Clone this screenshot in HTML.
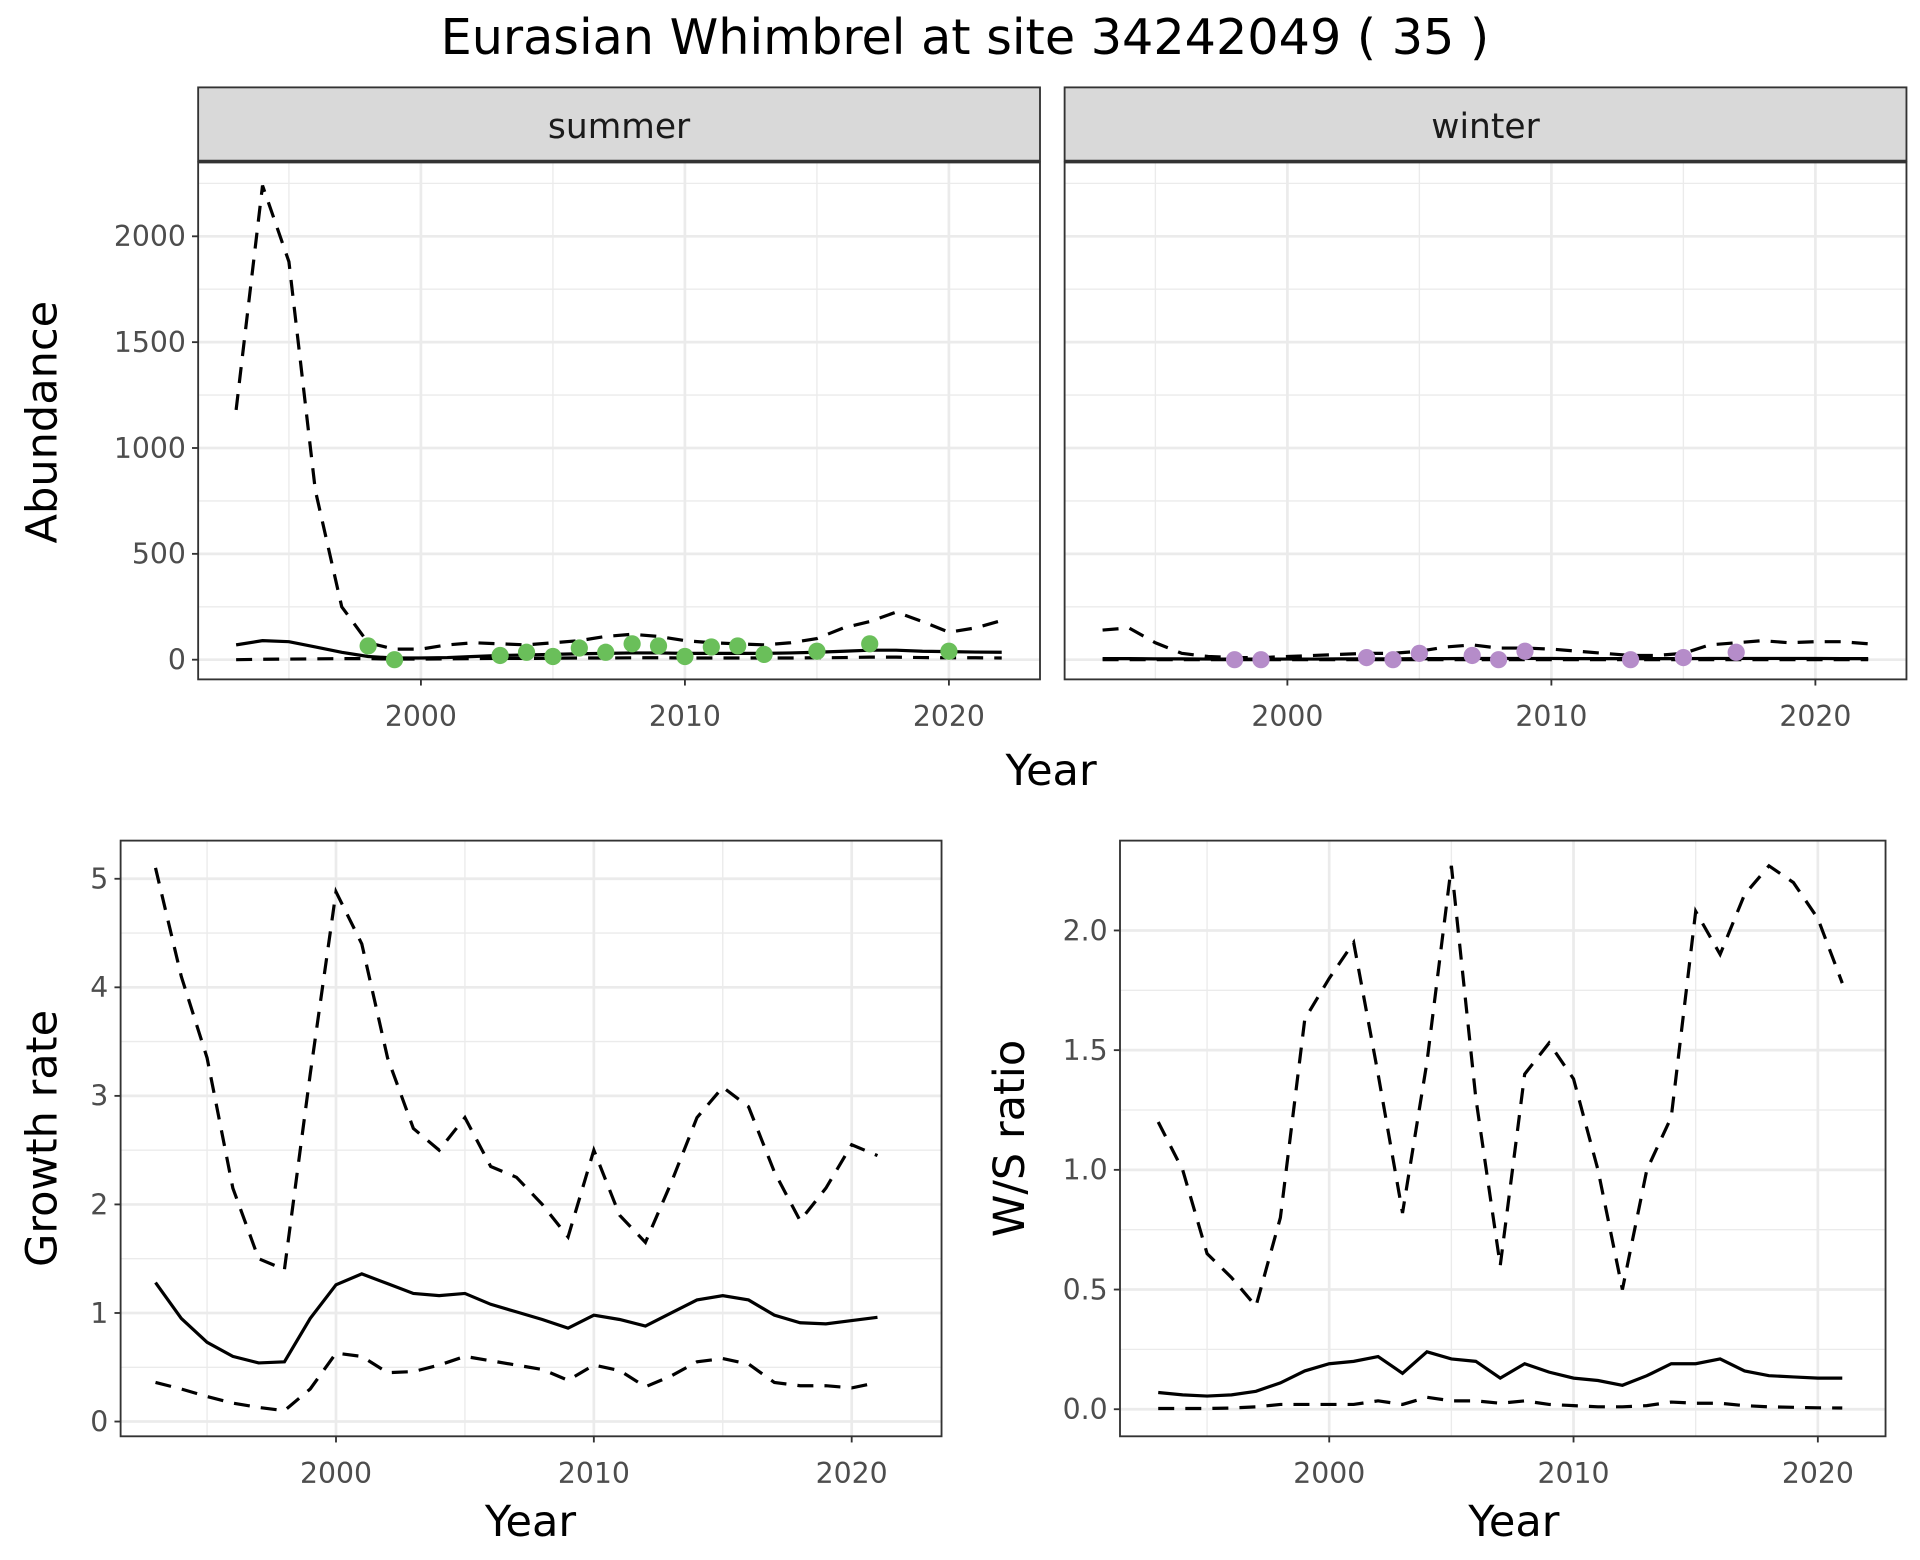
<!DOCTYPE html>
<html><head><meta charset="utf-8"><style>
html,body{margin:0;padding:0;background:#fff;}
svg{display:block;font-family:"DejaVu Sans","Liberation Sans",sans-serif;}
</style></head><body>
<svg id="chart" width="1920" height="1560" viewBox="0 0 1560 1267.5" xmlns="http://www.w3.org/2000/svg">
<rect width="1560" height="1267.5" fill="#fff"/>
<text x="784" y="44" font-size="40" text-anchor="middle" fill="#000">Eurasian Whimbrel at site 34242049 ( 35 )</text>
</svg>
<script>
const years = [1993,1994,1995,1996,1997,1998,1999,2000,2001,2002,2003,2004,2005,2006,2007,2008,2009,2010,2011,2012,2013,2014,2015,2016,2017,2018,2019,2020,2021,2022];
const summerMean = [70,90,85,60,35,15,8,8,10,15,20,22,25,28,30,32,32,30,30,30,30,32,35,40,45,45,40,38,36,35];
const summerUpper = [1180,2240,1880,800,250,80,50,50,70,80,75,70,80,90,110,120,110,90,80,75,70,80,100,150,180,225,180,130,150,185];
const summerLower = [0,2,3,4,5,5,3,3,4,5,6,6,7,8,8,9,9,8,8,8,8,8,9,10,12,12,10,9,9,8];
const summerPtYears = [1998,1999,2003,2004,2005,2006,2007,2008,2009,2010,2011,2012,2013,2015,2017,2020];
const summerPtVals = [65,0,20,35,15,55,35,75,65,15,60,65,25,40,75,40];
const winterMean = [5,5,4,4,3,3,3,3,3,4,4,4,5,5,6,6,6,6,5,5,5,5,5,6,6,6,6,6,5,5];
const winterUpper = [140,150,80,30,15,10,10,15,20,25,30,30,40,60,70,55,55,50,40,30,20,20,30,70,80,90,80,85,85,75];
const winterLower = [0,0,0,0,0,0,0,0,0,0,0,0,0,0,0,0,0,0,0,0,0,0,0,0,0,0,0,0,0,0];
const winterPtYears = [1998,1999,2003,2004,2005,2007,2008,2009,2013,2015,2017];
const winterPtVals = [0,0,10,0,30,20,0,40,0,10,35];
const rateYears = [1993,1994,1995,1996,1997,1998,1999,2000,2001,2002,2003,2004,2005,2006,2007,2008,2009,2010,2011,2012,2013,2014,2015,2016,2017,2018,2019,2020,2021];
const growthMean = [1.28,0.95,0.73,0.6,0.54,0.55,0.95,1.26,1.36,1.27,1.18,1.16,1.18,1.08,1.01,0.94,0.86,0.98,0.94,0.88,1.0,1.12,1.16,1.12,0.98,0.91,0.9,0.93,0.96];
const growthUpper = [5.1,4.1,3.35,2.15,1.5,1.4,3.2,4.88,4.4,3.35,2.7,2.5,2.8,2.35,2.25,2.0,1.7,2.5,1.9,1.65,2.2,2.8,3.08,2.9,2.3,1.85,2.15,2.55,2.45];
const growthLower = [0.36,0.3,0.23,0.17,0.13,0.1,0.3,0.63,0.6,0.45,0.46,0.52,0.6,0.56,0.52,0.48,0.38,0.52,0.47,0.32,0.42,0.55,0.58,0.53,0.36,0.33,0.33,0.31,0.36];
const wsMean = [0.07,0.06,0.055,0.06,0.075,0.11,0.16,0.19,0.2,0.22,0.15,0.24,0.21,0.2,0.13,0.19,0.155,0.13,0.12,0.1,0.14,0.19,0.19,0.21,0.16,0.14,0.135,0.13,0.13];
const wsUpper = [1.2,1.0,0.65,0.55,0.43,0.8,1.63,1.8,1.95,1.4,0.82,1.45,2.27,1.3,0.6,1.4,1.53,1.38,1.0,0.5,1.0,1.22,2.08,1.9,2.15,2.27,2.2,2.05,1.78];
const wsLower = [0.003,0.003,0.003,0.005,0.01,0.02,0.02,0.02,0.02,0.035,0.02,0.05,0.035,0.035,0.025,0.035,0.02,0.015,0.01,0.01,0.015,0.03,0.025,0.025,0.015,0.01,0.008,0.006,0.005];
const xTicks = [2000,2010,2020];
const abTicks = [0,500,1000,1500,2000];
const grTicks = [0,1,2,3,4,5];
const wsTicks = [0,0.5,1.0,1.5,2.0];
const wsTickLabels = ["0.0","0.5","1.0","1.5","2.0"];

const svg = document.getElementById('chart');
const NS = 'http://www.w3.org/2000/svg';
function mk(tag, attrs, parent){ const e=document.createElementNS(NS,tag); for(const k in attrs) e.setAttribute(k,attrs[k]); (parent||svg).appendChild(e); return e; }

function panel(cfg){
  const g = mk('g',{});
  
  
  const x = v => cfg.x0 + (v - cfg.xa) * cfg.xs;
  const y = v => cfg.y0 - (v - cfg.ya) * cfg.ys;
  for(let i=0;i<cfg.yt.length-1;i++){ const m=(cfg.yt[i]+cfg.yt[i+1])/2; mk('line',{x1:cfg.L,x2:cfg.R,y1:y(m),y2:y(m),stroke:'#EBEBEB','stroke-width':1.1},g); }
  if(cfg.yMinorTop!==undefined){ mk('line',{x1:cfg.L,x2:cfg.R,y1:y(cfg.yMinorTop),y2:y(cfg.yMinorTop),stroke:'#EBEBEB','stroke-width':1.1},g); }
  for(const m of [1995,2005,2015]){ mk('line',{x1:x(m),x2:x(m),y1:cfg.T,y2:cfg.B,stroke:'#EBEBEB','stroke-width':1.1},g); }
  cfg.yt.forEach(v=>mk('line',{x1:cfg.L,x2:cfg.R,y1:y(v),y2:y(v),stroke:'#EBEBEB','stroke-width':2.2},g));
  xTicks.forEach(v=>mk('line',{x1:x(v),x2:x(v),y1:cfg.T,y2:cfg.B,stroke:'#EBEBEB','stroke-width':2.2},g));
  const line=(xs,vals,dash,nm)=>{ const p=mk('polyline',{points:xs.map((yr,i)=>x(yr)+','+y(vals[i])).join(' '),fill:'none',stroke:'#000','stroke-width':2.6,'stroke-dasharray':dash?'13,9':'none'},g);
    
     };
  line(cfg.xs_, cfg.upper, true, 'upper-ci-line');
  line(cfg.xs_, cfg.lower, true, 'lower-ci-line');
  line(cfg.xs_, cfg.mean, false, 'mean-line');
  if(cfg.pts){ cfg.pts.forEach((yr,i)=>{ const c=mk('circle',{cx:x(yr),cy:y(cfg.ptv[i]),r:7,fill:cfg.ptc},g);
    
     }); }
  mk('rect',{x:cfg.L,y:cfg.T,width:cfg.R-cfg.L,height:cfg.B-cfg.T,fill:'none',stroke:'#333','stroke-width':1.5},g);
  if(cfg.showY){ cfg.yt.forEach((v,i)=>{ mk('line',{x1:cfg.L-5,x2:cfg.L,y1:y(v),y2:y(v),stroke:'#333','stroke-width':1.5},g);
    const t=mk('text',{x:cfg.L-10,y:y(v)+8,'font-size':23,'text-anchor':'end',fill:'#4D4D4D'},g); t.textContent=cfg.ytl?cfg.ytl[i]:String(v);
    
     }); }
  xTicks.forEach(v=>{ mk('line',{x1:x(v),x2:x(v),y1:cfg.B,y2:cfg.B+5,stroke:'#333','stroke-width':1.5},g);
    const t=mk('text',{x:x(v),y:cfg.B+38,'font-size':23,'text-anchor':'middle',fill:'#4D4D4D'},g); t.textContent=String(v);
    
     });
  if(cfg.strip){ const s=mk('rect',{x:cfg.L,y:71,width:cfg.R-cfg.L,height:60,fill:'#D9D9D9',stroke:'#333','stroke-width':1.5},g);
    
    
    mk('line',{x1:cfg.L,x2:cfg.R,y1:131,y2:131,stroke:'#333','stroke-width':2.5},g);
    const t=mk('text',{x:(cfg.L+cfg.R)/2,y:112,'font-size':28,'text-anchor':'middle',fill:'#1A1A1A'},g); t.textContent=cfg.strip;
    
     }
}
panel({name:'summer-panel',L:161,R:845,T:132,B:552,x0:342,xa:2000,xs:21.45,y0:536,ya:0,ys:0.172,yt:abTicks,yMinorTop:2250,showY:true,xs_:years,mean:summerMean,upper:summerUpper,lower:summerLower,pts:summerPtYears,ptv:summerPtVals,ptc:'#6ABF5A',strip:'summer'});
panel({name:'winter-panel',L:865,R:1549,T:132,B:552,x0:1046,xa:2000,xs:21.45,y0:536,ya:0,ys:0.172,yt:abTicks,yMinorTop:2250,showY:false,xs_:years,mean:winterMean,upper:winterUpper,lower:winterLower,pts:winterPtYears,ptv:winterPtVals,ptc:'#B58CC9',strip:'winter'});
panel({name:'growth-panel',L:98,R:765,T:683,B:1167,x0:273,xa:2000,xs:20.95,y0:1155,ya:0,ys:88.2,yt:grTicks,showY:true,xs_:rateYears,mean:growthMean,upper:growthUpper,lower:growthLower});
panel({name:'ws-panel',L:910,R:1532,T:683,B:1167,x0:1080,xa:2000,xs:19.85,y0:1145,ya:0,ys:194.5,yt:wsTicks,ytl:wsTickLabels,showY:true,xs_:rateYears,mean:wsMean,upper:wsUpper,lower:wsLower});
function label(txt,x,y,rot,nm){ const t=mk('text',{x:x,y:y,'font-size':35,'text-anchor':'middle',fill:'#000',transform:rot?`rotate(-90 ${x} ${y})`:''}); t.textContent=txt;
  
   }
label('Year',854,638,false,'top-x-axis-title');
label('Abundance',46,343,true,'abundance-axis-title');
label('Year',431,1248,false,'growth-x-axis-title');
label('Year',1230,1248,false,'ws-x-axis-title');
label('Growth rate',46,925,true,'growth-axis-title');
label('W/S ratio',832,925,true,'ws-axis-title');
</script>
</body></html>
